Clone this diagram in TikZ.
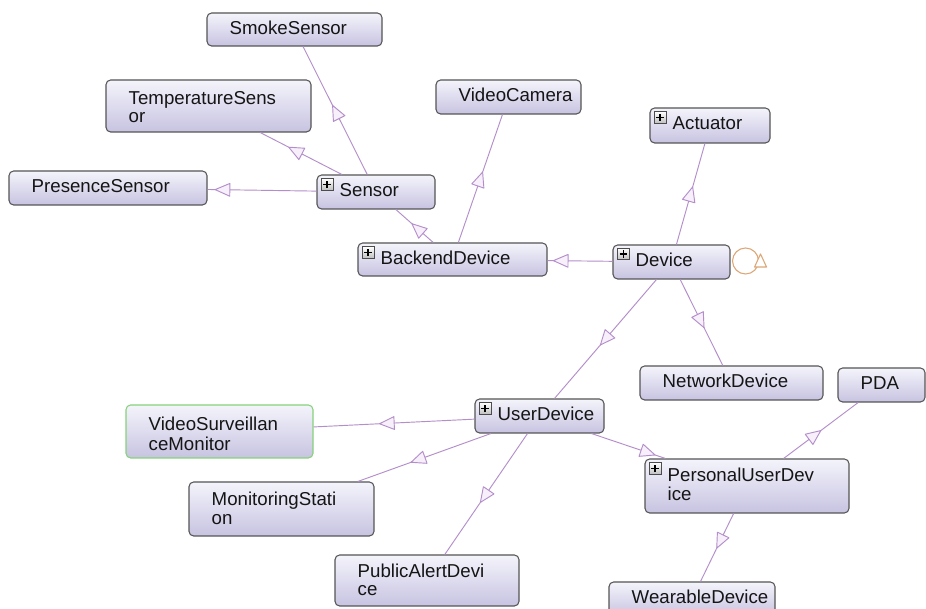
\documentclass[tikz,border=0pt]{standalone}
\usepackage{fontspec}
\setmainfont{Liberation Sans}
\usetikzlibrary{fit,decorations.markings,calc}
\definecolor{edgec}{HTML}{B48ECB}
\definecolor{trifill}{HTML}{F7F0FA}
\definecolor{boxtop}{HTML}{F4F4FB}
\definecolor{boxbot}{HTML}{C7C3E1}
\definecolor{boxline}{HTML}{555555}
\definecolor{vsmline}{HTML}{86D27A}
\definecolor{loopcol}{HTML}{DCA676}
\definecolor{txt}{HTML}{151515}
\tikzset{
  cbox/.style={draw=boxline, line width=0.8pt, rounded corners=3.5pt,
    top color=boxtop, bottom color=boxbot, inner sep=0pt},
  lbl/.style={anchor=base west, inner sep=0pt, text=txt,
    font=\fontsize{14pt}{13.8pt}\selectfont},
  plusbox/.style={draw=black!70, line width=0.5pt, top color=white, bottom color=black!25,
    minimum size=8.8pt, inner sep=0pt,
    path picture={\draw[line width=1.1pt, black]
      (path picture bounding box.center) +(-2.8pt,0) -- +(2.8pt,0)
      (path picture bounding box.center) +(0,-2.8pt) -- +(0,2.8pt);}},
  edge/.style={draw=edgec, line width=0.7pt},
  tri/.style={postaction={decorate}, decoration={markings,
    mark=at position #1 with {\draw[draw=edgec, line width=0.7pt, fill=trifill, line join=round]
      (0,0) -- (-11pt,4.8pt) -- (-11pt,-4.8pt) -- cycle;}}},
  loopline/.style={draw=loopcol, line width=0.8pt}
}
\newcommand\twol[2]{\begin{tabular}[t]{@{}l@{}}#1\\#2\end{tabular}}
\begin{document}
\begin{tikzpicture}[x=0.75pt,y=-0.75pt]
\useasboundingbox (0,0) rectangle (926,609);
\fill[white] (0,0) rectangle (926,609);

% boxes
\node[cbox, fit={(207,13) (382,46)}] (smoke) {};
\node[cbox, fit={(106,80) (311,132)}] (temp) {};
\node[cbox, fit={(9,171) (207,205)}] (presence) {};
\node[cbox, fit={(317,175) (435,209)}] (sensor) {};
\node[cbox, fit={(436,80) (581,114)}] (camera) {};
\node[cbox, fit={(650,108) (770,143)}] (actuator) {};
\node[cbox, fit={(358,243) (547,276)}] (backend) {};
\node[cbox, fit={(613,245) (730,279)}] (device) {};
\node[cbox, fit={(640,366) (823,400)}] (network) {};
\node[cbox, fit={(838,368) (925,402)}] (pda) {};
\node[cbox, draw=vsmline, fit={(126,405) (313,458)}] (vsm) {};
\node[cbox, fit={(475,399) (604,433)}] (user) {};
\node[cbox, fit={(189,482) (374,536)}] (monitoring) {};
\node[cbox, fit={(645,459) (849,513)}] (personal) {};
\node[cbox, fit={(335,555) (519,606)}] (public) {};
\node[cbox, fit={(609,582) (775,616)}] (wearable) {};

% labels
\node[lbl] (smoke-t) at ([shift={(23,22)}]smoke.north west) {SmokeSensor};
\node[lbl] (temp-t) at ([shift={(23,25)}]temp.north west) {\twol{TemperatureSens}{or}};
\node[lbl] (presence-t) at ([shift={(23,22)}]presence.north west) {PresenceSensor};
\node[lbl] (sensor-t) at ([shift={(23,22)}]sensor.north west) {Sensor};
\node[lbl] (camera-t) at ([shift={(23,22)}]camera.north west) {VideoCamera};
\node[lbl] (actuator-t) at ([shift={(23,22)}]actuator.north west) {Actuator};
\node[lbl] (backend-t) at ([shift={(23,22)}]backend.north west) {BackendDevice};
\node[lbl] (device-t) at ([shift={(23,22)}]device.north west) {Device};
\node[lbl] (network-t) at ([shift={(23,22)}]network.north west) {NetworkDevice};
\node[lbl] (pda-t) at ([shift={(23,22)}]pda.north west) {PDA};
\node[lbl] (vsm-t) at ([shift={(23,26.5)}]vsm.north west) {\twol{VideoSurveillan}{ceMonitor}};
\node[lbl] (user-t) at ([shift={(23,22)}]user.north west) {UserDevice};
\node[lbl] (monitoring-t) at ([shift={(23,24.5)}]monitoring.north west) {\twol{MonitoringStati}{on}};
\node[lbl] (personal-t) at ([shift={(23,23)}]personal.north west) {\twol{PersonalUserDev}{ice}};
\node[lbl] (public-t) at ([shift={(23,23)}]public.north west) {\twol{PublicAlertDevi}{ce}};
\node[lbl] (wearable-t) at ([shift={(23,22)}]wearable.north west) {WearableDevice};

% expand icons
\node[plusbox] (sensor-p) at ([shift={(10.5,10)}]sensor.north west) {};
\node[plusbox] (actuator-p) at ([shift={(10.5,10)}]actuator.north west) {};
\node[plusbox] (backend-p) at ([shift={(10.5,10)}]backend.north west) {};
\node[plusbox] (device-p) at ([shift={(11,9.5)}]device.north west) {};
\node[plusbox] (user-p) at ([shift={(10.5,10)}]user.north west) {};
\node[plusbox] (personal-p) at ([shift={(10.5,10)}]personal.north west) {};

% connectors
\draw[edge, tri=0.54] (sensor) -- (smoke);
\draw[edge, tri=0.65] (sensor) -- (temp);
\draw[edge, tri=0.93] (sensor) -- (presence);
\draw[edge, tri=0.57] (backend) -- (sensor);
\draw[edge, tri=0.55] (backend) -- (camera);
\draw[edge, tri=0.91] (device) -- (backend);
\draw[edge, tri=0.57] (device) -- (actuator);
\draw[edge, tri=0.56] (device) -- (network);
\draw[edge, tri=0.55] (device) -- (user);
\draw[edge, tri=0.59] (user) -- (vsm);
\draw[edge, tri=0.60] (user) -- (monitoring);
\draw[edge, tri=0.57] (user) -- (public);
\draw[edge, tri=0.86] (user) -- (personal);
\draw[edge, tri=0.50] (personal) -- (pda);
\draw[edge, tri=0.51] (personal) -- (wearable);

% self loop on Device
\coordinate (loopctr) at ([shift={(15,-1)}]device.east);
\draw[loopline] (loopctr) circle[radius=13];
\draw[loopline, fill=white, line join=round]
  ([shift={(15,-7)}]loopctr) -- ([shift={(9,6)}]loopctr) -- ([shift={(21,6)}]loopctr) -- cycle;
\end{tikzpicture}
\end{document}
